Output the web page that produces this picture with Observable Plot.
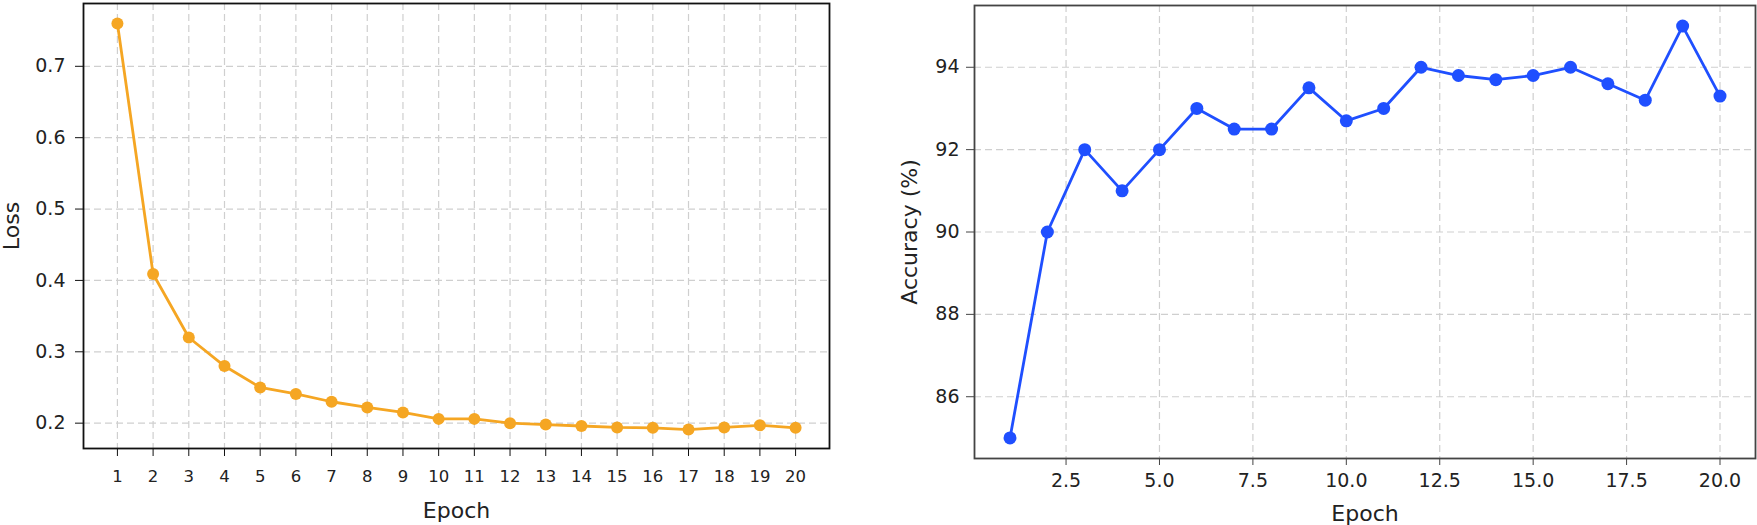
<!DOCTYPE html>
<html>
<head>
<meta charset="utf-8">
<script src="https://cdn.jsdelivr.net/npm/d3@7"></script>
<script src="https://cdn.jsdelivr.net/npm/@observablehq/plot@0.6"></script>
<style>
  html, body { margin: 0; padding: 0; background: #fff; }
  #wrap { position: relative; width: 1757px; height: 525px; overflow: hidden; background: #fff; }
  #left { position: absolute; left: 0; top: 0; }
  #right { position: absolute; left: 880px; top: 0; }
</style>
</head>
<body>
<div id="wrap"><div id="left"></div><div id="right"></div></div>
<script>
const epochs = [1,2,3,4,5,6,7,8,9,10,11,12,13,14,15,16,17,18,19,20];
const loss = [0.76, 0.409, 0.32, 0.28, 0.25, 0.241, 0.23, 0.222, 0.215, 0.206, 0.206, 0.2, 0.198, 0.196, 0.194, 0.1935, 0.191, 0.194, 0.197, 0.1935];
const accuracy = [85, 90, 92, 91, 92, 93, 92.5, 92.5, 93.5, 92.7, 93, 94, 93.8, 93.7, 93.8, 94, 93.6, 93.2, 95, 93.3];
const lossXTicks = epochs;
const lossYTicks = [0.2, 0.3, 0.4, 0.5, 0.6, 0.7];
const accXTicks = [2.5, 5, 7.5, 10, 12.5, 15, 17.5, 20];
const accYTicks = [86, 88, 90, 92, 94];

const lossData = epochs.map((e, i) => ({epoch: e, value: loss[i]}));
const accData = epochs.map((e, i) => ({epoch: e, value: accuracy[i]}));

const orange = "#f5a623";
const blue = "#1f4fff";
const gridStyle = {stroke: "#cfcfcf", strokeOpacity: 1, strokeWidth: 1.2, strokeDasharray: "7,4"};
const font = {fontFamily: "DejaVu Sans", color: "#222", background: "white", overflow: "visible"};

const left = Plot.plot({
  width: 880, height: 525,
  marginLeft: 83, marginRight: 51, marginTop: 3, marginBottom: 77,
  x: {domain: [0.05, 20.95]},
  y: {domain: [0.1645, 0.788]},
  style: font,
  marks: [
    Plot.gridX(lossXTicks, gridStyle),
    Plot.gridY(lossYTicks, gridStyle),
    Plot.line(lossData, {x: "epoch", y: "value", stroke: orange, strokeWidth: 2.8}),
    Plot.dot(lossData, {x: "epoch", y: "value", r: 6, fill: orange}),
    Plot.frame({stroke: "#111", strokeWidth: 1.8}),
    Plot.axisX(lossXTicks, {tickSize: 8, tickPadding: 14, fontSize: 16.5, stroke: "#111", fill: "#222", label: null}),
    Plot.axisY(lossYTicks, {tickSize: 8, tickPadding: 10, fontSize: 19, stroke: "#111", fill: "#222", tickFormat: d3.format(".1f"), label: null}),
    Plot.axisX({ticks: [], tickSize: 0, label: "Epoch", labelAnchor: "center", labelArrow: "none", labelOffset: 69, fontSize: 22, fill: "#222"}),
    Plot.axisY({ticks: [], tickSize: 0, label: "Loss", labelAnchor: "center", labelArrow: "none", labelOffset: 80, fontSize: 22, fill: "#222"})
  ]
});
document.getElementById("left").appendChild(left);

const right = Plot.plot({
  width: 877, height: 525,
  marginLeft: 94, marginRight: 2, marginTop: 5, marginBottom: 67,
  x: {domain: [0.05, 20.95]},
  y: {domain: [84.5, 95.5]},
  style: font,
  marks: [
    Plot.gridX(accXTicks, gridStyle),
    Plot.gridY(accYTicks, gridStyle),
    Plot.line(accData, {x: "epoch", y: "value", stroke: blue, strokeWidth: 2.8}),
    Plot.dot(accData, {x: "epoch", y: "value", r: 6.5, fill: blue}),
    Plot.frame({stroke: "#444", strokeWidth: 1.8}),
    Plot.axisX(accXTicks, {tickSize: 7, tickPadding: 8, fontSize: 19, stroke: "#444", fill: "#222", tickFormat: d3.format(".1f"), label: null}),
    Plot.axisY(accYTicks, {tickSize: 8, tickPadding: 7, fontSize: 19, stroke: "#444", fill: "#222", label: null}),
    Plot.axisX({ticks: [], tickSize: 0, label: "Epoch", labelAnchor: "center", labelArrow: "none", labelOffset: 62, fontSize: 22, fill: "#222"}),
    Plot.axisY({ticks: [], tickSize: 0, label: "Accuracy (%)", labelAnchor: "center", labelArrow: "none", labelOffset: 73, fontSize: 22, fill: "#222"})
  ]
});
document.getElementById("right").appendChild(right);
</script>
</body>
</html>
